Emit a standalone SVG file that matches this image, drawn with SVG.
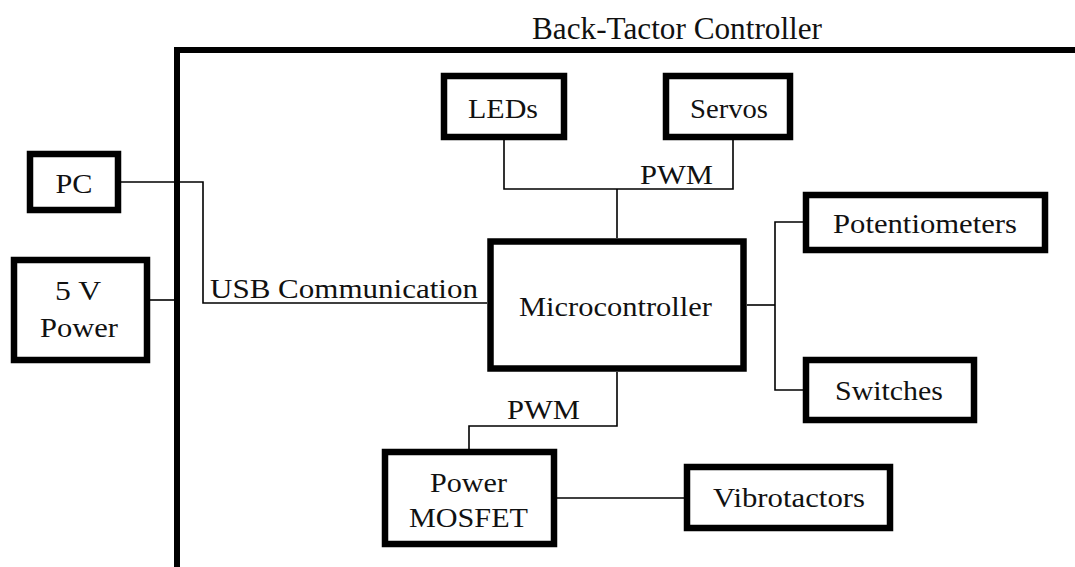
<svg xmlns="http://www.w3.org/2000/svg" width="1075" height="567" viewBox="0 0 1075 567">
<style>
.box{fill:#fff;stroke:#000;stroke-width:6.5}
.frame{fill:none;stroke:#000;stroke-width:6}
.wire{fill:none;stroke:#000;stroke-width:1.6}
.t{font-family:'Liberation Serif','Times New Roman',Times,serif;font-size:27px;fill:#111;text-anchor:middle}
.title{font-size:32px}
</style>
<rect width="1075" height="567" fill="#fff"/>
<g id="frame">
<path class="frame" d="M177,567 V50 H1075"/>
<text class="t title" x="677" y="39" textLength="290" lengthAdjust="spacingAndGlyphs">Back-Tactor Controller</text>
</g>
<g id="connectors">
<path class="wire" d="M121,182 H203 V303 H487"/>
<path class="wire" d="M150,300 H177"/>
<path class="wire" d="M504,140 V189 H733 V140"/>
<path class="wire" d="M617,189 V238"/>
<path class="wire" d="M617,372 V426 H469 V449"/>
<path class="wire" d="M747,305 H775"/>
<path class="wire" d="M803,222 H775 V390 H803"/>
<path class="wire" d="M557,498 H684"/>
<text class="t" x="344" y="298" textLength="268" lengthAdjust="spacingAndGlyphs">USB Communication</text>
<text class="t" x="676.5" y="184" textLength="73" lengthAdjust="spacingAndGlyphs">PWM</text>
<text class="t" x="543.5" y="419" textLength="73" lengthAdjust="spacingAndGlyphs">PWM</text>
</g>
<g id="pc">
<rect class="box" x="30" y="154" width="88" height="56"/>
<text class="t" x="74" y="193" textLength="37" lengthAdjust="spacingAndGlyphs">PC</text>
</g>
<g id="power5v">
<rect class="box" x="14" y="260" width="133" height="100"/>
<text class="t" x="78" y="300" textLength="46" lengthAdjust="spacingAndGlyphs">5 V</text>
<text class="t" x="79" y="337" textLength="78" lengthAdjust="spacingAndGlyphs">Power</text>
</g>
<g id="leds">
<rect class="box" x="444" y="76" width="120" height="61"/>
<text class="t" x="503" y="118" textLength="70" lengthAdjust="spacingAndGlyphs">LEDs</text>
</g>
<g id="servos">
<rect class="box" x="666" y="76" width="124" height="61"/>
<text class="t" x="729" y="118" textLength="78" lengthAdjust="spacingAndGlyphs">Servos</text>
</g>
<g id="microcontroller">
<rect class="box" x="490.5" y="241.5" width="253" height="127"/>
<text class="t" x="615.5" y="316" textLength="193" lengthAdjust="spacingAndGlyphs">Microcontroller</text>
</g>
<g id="potentiometers">
<rect class="box" x="806" y="195" width="239" height="55"/>
<text class="t" x="925" y="233" textLength="184" lengthAdjust="spacingAndGlyphs">Potentiometers</text>
</g>
<g id="switches">
<rect class="box" x="806" y="360" width="168" height="60"/>
<text class="t" x="889" y="400" textLength="108" lengthAdjust="spacingAndGlyphs">Switches</text>
</g>
<g id="mosfet">
<rect class="box" x="385" y="452" width="169" height="92"/>
<text class="t" x="468.5" y="492" textLength="77" lengthAdjust="spacingAndGlyphs">Power</text>
<text class="t" x="468.5" y="527" textLength="119" lengthAdjust="spacingAndGlyphs">MOSFET</text>
</g>
<g id="vibrotactors">
<rect class="box" x="687" y="467" width="203" height="61"/>
<text class="t" x="789" y="507" textLength="152" lengthAdjust="spacingAndGlyphs">Vibrotactors</text>
</g>
</svg>
